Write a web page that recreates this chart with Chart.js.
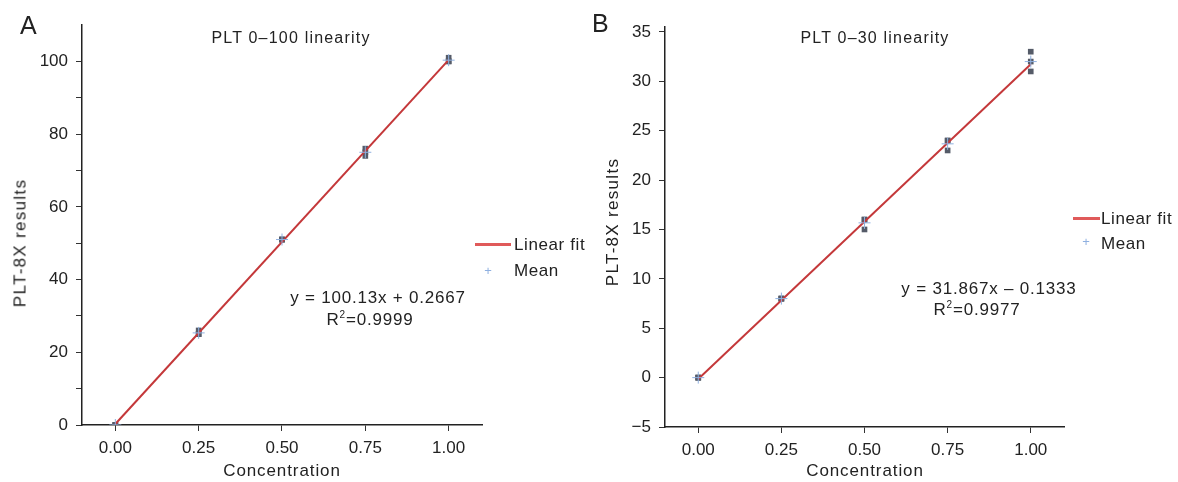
<!DOCTYPE html>
<html lang="en">
<head>
<meta charset="UTF-8">
<title>PLT linearity</title>
<script src="https://cdn.jsdelivr.net/npm/chart.js"></script>
<style>
    body { margin: 0; background: #fff; font-family: "Liberation Sans", Arial, sans-serif; color: #222; }
    #wrap { position: relative; width: 1178px; height: 482px; overflow: hidden; }
    canvas { position: absolute; top: 0; }
    .t { position: absolute; white-space: nowrap; font-size: 17px; line-height: 1; }
    .c { transform: translate(-50%, -50%); }
    .rot { transform: translate(-50%, -50%) rotate(-90deg); font-size: 17px; letter-spacing: 1.3px; }
    .ttl { font-size: 16px; letter-spacing: 1.2px; }
    .eq { letter-spacing: 0.8px; }
    .leg { letter-spacing: 0.6px; }
    .ax { letter-spacing: 0.9px; }
    .panel { font-size: 25px; }
    .leg-line { position: absolute; height: 3px; background: #e05a5a; }
    .leg-plus { position: absolute; color: #8fb0e0; font-size: 13px; line-height: 1; transform: translate(-50%, -50%); }
    sup { font-size: 10px; line-height: 0; vertical-align: 7px; }
</style>
</head>
<body>
<div id="wrap">
    <canvas id="chartA" width="590" height="482" style="left:0"></canvas>
    <canvas id="chartB" width="588" height="482" style="left:590px"></canvas>

    <div class="t panel" style="left:20px;top:13px">A</div>
    <div class="t panel" style="left:592px;top:11px">B</div>

    <div class="t c ttl" style="left:291px;top:38px">PLT 0–100 linearity</div>
    <div class="t c ttl" style="left:875px;top:38px">PLT 0–30 linearity</div>

    <div class="t rot" style="left:20px;top:243px">PLT-8X results</div>
    <div class="t rot" style="left:612px;top:222px">PLT-8X results</div>
    <div class="t c ax" style="left:282px;top:470px">Concentration</div>
    <div class="t c ax" style="left:865px;top:470px">Concentration</div>

    <div class="t c eq" style="left:378px;top:297px">y = 100.13x + 0.2667</div>
    <div class="t c eq" style="left:370px;top:319px">R<sup>2</sup>=0.9999</div>
    <div class="t c eq" style="left:989px;top:288px">y = 31.867x – 0.1333</div>
    <div class="t c eq" style="left:977px;top:309px">R<sup>2</sup>=0.9977</div>

    <div class="leg-line" style="left:475px;top:243px;width:36px"></div>
    <div class="t leg" style="left:514px;top:236px">Linear fit</div>
    <div class="leg-plus" style="left:488px;top:270px">+</div>
    <div class="t leg" style="left:514px;top:262px">Mean</div>

    <div class="leg-line" style="left:1073px;top:217px;width:27px"></div>
    <div class="t leg" style="left:1101px;top:210px">Linear fit</div>
    <div class="leg-plus" style="left:1086px;top:241px">+</div>
    <div class="t leg" style="left:1101px;top:235px">Mean</div>
</div>
<script>
    // concentrations (x) of the samples
    const conc = [0, 0.25, 0.5, 0.75, 1.0];

    // panel A: PLT 0-100, three repeats per level
    const repA1 = [0, 25, 51, 74, 100];
    const repA2 = [0, 26, 51, 75, 100];
    const repA3 = [0, 25, 51, 76, 101];
    const meanA = [0, 25.33, 51, 75, 100.33];
    const fitA = [0.27, 100.40];   // fit line at x = 0 and x = 1

    // panel B: PLT 0-30
    const repB1 = [0, 8, 15, 23, 31];
    const repB2 = [0, 8, 16, 24, 32];
    const repB3 = [0, 8, 16, 24, 33];
    const meanB = [0, 8, 15.67, 23.67, 32];
    const fitB = [-0.13, 31.73];

    const xTicks = [0, 0.25, 0.5, 0.75, 1.0];
    const yTicksA = [0, 10, 20, 30, 40, 50, 60, 70, 80, 90, 100];
    const yTicksB = [-5, 0, 5, 10, 15, 20, 25, 30, 35];

    const fitX = [0, 1];

    function pts(xs, ys) {
        return xs.map((x, i) => ({ x: x, y: ys[i] }));
    }

    function makeChart(id, reps, mean, fit, yTicks, ymin, ymax, box, labelEvery) {
        const repData = [];
        reps.forEach(r => repData.push(...pts(conc, r)));

        new Chart(document.getElementById(id), {
            type: 'scatter',
            data: {
                datasets: [
                    {
                        label: 'Linear fit',
                        data: pts(fitX, fit),
                        showLine: true,
                        borderColor: '#c4383a',
                        borderWidth: 2,
                        pointRadius: 0,
                        order: 2
                    },
                    {
                        label: 'Data',
                        data: repData,
                        pointStyle: 'rect',
                        pointRadius: 4,
                        backgroundColor: '#555b68',
                        borderColor: '#555b68',
                        borderWidth: 0,
                        order: 3
                    },
                    {
                        label: 'Mean',
                        data: pts(conc, mean),
                        pointStyle: 'cross',
                        pointRadius: 6,
                        borderColor: '#8fb0e0',
                        borderWidth: 1,
                        order: 1
                    }
                ]
            },
            options: {
                responsive: false,
                animation: false,
                layout: { padding: { left: 0, top: box.top, right: box.right, bottom: 0 } },
                plugins: { legend: { display: false }, tooltip: { enabled: false } },
                scales: {
                    x: {
                        type: 'linear',
                        min: -0.1,
                        max: 1.1,
                        afterBuildTicks: s => { s.ticks = xTicks.map(v => ({ value: v })); },
                        afterFit: s => { s.height = box.xh; },
                        ticks: {
                            color: '#222',
                            padding: 7,
                            font: { family: 'Liberation Sans', size: 17 },
                            callback: v => v.toFixed(2)
                        },
                        grid: { drawOnChartArea: false, drawTicks: true, tickLength: 6, color: '#333' },
                        border: { display: true, color: '#222', width: 1.5 }
                    },
                    y: {
                        min: ymin,
                        max: ymax,
                        afterBuildTicks: s => { s.ticks = yTicks.map(v => ({ value: v })); },
                        afterFit: s => { s.width = box.yw; },
                        ticks: {
                            color: '#222',
                            padding: 8,
                            font: { family: 'Liberation Sans', size: 17 },
                            callback: v => (v % labelEvery !== 0 ? '' : (v < 0 ? '\u2212' + Math.abs(v) : v))
                        },
                        grid: { drawOnChartArea: false, drawTicks: true, tickLength: 6, color: '#333' },
                        border: { display: true, color: '#222', width: 1.5 }
                    }
                }
            }
        });
    }

    makeChart('chartA', [repA1, repA2, repA3], meanA, fitA, yTicksA, 0, 110,
        { top: 25, right: 108, xh: 57, yw: 82 }, 20);
    makeChart('chartB', [repB1, repB2, repB3], meanB, fitB, yTicksB, -5, 35.5,
        { top: 27, right: 114, xh: 55, yw: 75 }, 5);
</script>
</body>
</html>
